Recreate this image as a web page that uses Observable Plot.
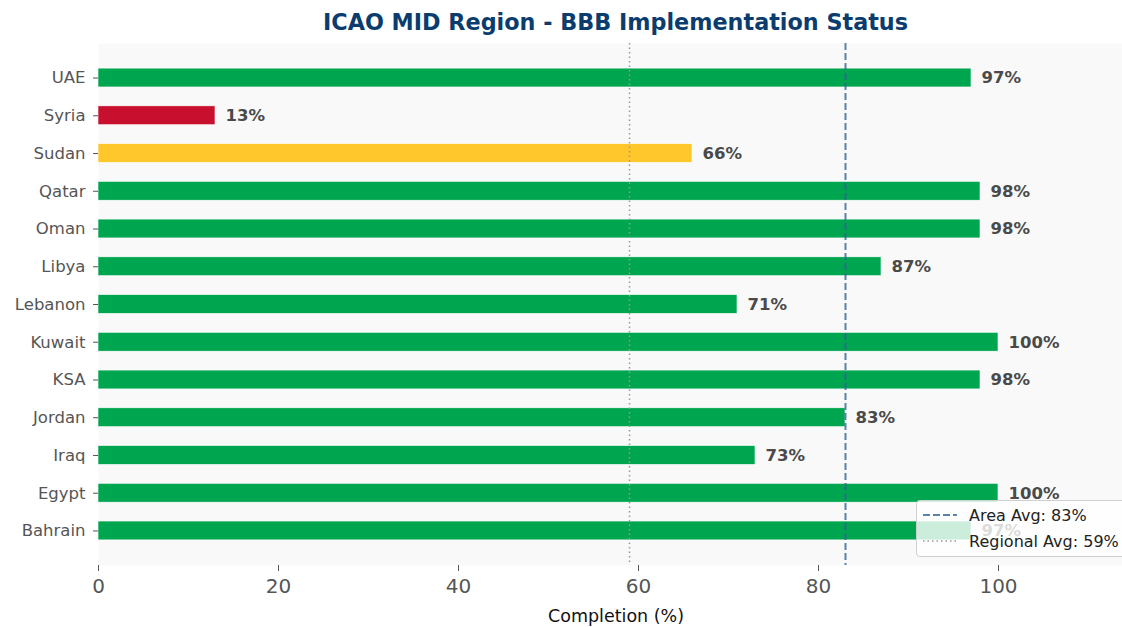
<!DOCTYPE html>
<html>
<head>
<meta charset="utf-8">
<script src="https://cdn.jsdelivr.net/npm/d3@7"></script>
<script src="https://cdn.jsdelivr.net/npm/@observablehq/plot@0.6"></script>
<style>
  html, body { margin: 0; padding: 0; background: #fff; overflow: hidden; width: 1122px; height: 627px; }
  #wrap { position: relative; width: 1133px; font-family: "DejaVu Sans", sans-serif; }
  #title { height: 43px; line-height: 45px; padding-left: 98px; text-align: center; font-weight: bold; font-size: 22.3px; color: #0b3c6e; white-space: nowrap; }
  #legend { position: absolute; left: 916px; top: 500px; width: 210px; height: 57px; box-sizing: border-box;
            background: rgba(255,255,255,0.8); border: 1px solid #d0d0d0; border-radius: 4px; font-size: 16px; color: #222; }
  .row { position: absolute; left: 6px; height: 20px; display: flex; align-items: center; white-space: nowrap; }
  .row svg { margin-right: 12px; }
</style>
</head>
<body>
<div id="wrap">
  <div id="title">ICAO MID Region - BBB Implementation Status</div>
  <div id="chart"></div>
  <div id="legend">
    <div class="row" style="top:4px"><svg width="34" height="6"><line x1="0" y1="3" x2="34" y2="3" stroke="#2f6494" stroke-opacity="0.8" stroke-width="2" stroke-dasharray="7,3"/></svg><span>Area Avg: 83%</span></div>
    <div class="row" style="top:30px"><svg width="34" height="6"><line x1="0" y1="3" x2="34" y2="3" stroke="#999" stroke-width="1.5" stroke-dasharray="1.5,3"/></svg><span>Regional Avg: 59%</span></div>
  </div>
</div>
<script>
const countries = ["UAE", "Syria", "Sudan", "Qatar", "Oman", "Libya", "Lebanon", "Kuwait", "KSA", "Jordan", "Iraq", "Egypt", "Bahrain"];
const completion = [97, 13, 66, 98, 98, 87, 71, 100, 98, 83, 73, 100, 97];
const areaAvg = 83;
const regionalAvg = 59;
const xTicks = [0, 20, 40, 60, 80, 100];

const data = countries.map((c, i) => ({country: c, value: completion[i]}));
const colorOf = v => v >= 70 ? "#00a550" : v >= 50 ? "#ffc72c" : "#c8102e";

const chart = Plot.plot({
  width: 1133,
  height: 584,
  marginTop: 0,
  marginBottom: 62,
  marginLeft: 98,
  marginRight: 0,
  style: {fontFamily: "DejaVu Sans, sans-serif", background: "transparent", overflow: "visible"},
  x: {domain: [0, 115]},
  y: {domain: countries, paddingInner: 0.5, paddingOuter: 0.665, round: false},
  marks: [
    Plot.frame({fill: "#f9f9f9", stroke: null}),
    Plot.barX(data, {x: "value", y: "country", fill: d => colorOf(d.value), stroke: "white", strokeWidth: 0.6}),
    Plot.ruleX([regionalAvg], {stroke: "#999", strokeWidth: 1.5, strokeDasharray: "1.5,3"}),
    Plot.ruleX([areaAvg], {stroke: "#2f6494", strokeOpacity: 0.8, strokeWidth: 2, strokeDasharray: "7,3"}),
    Plot.text(data, {x: "value", y: "country", text: d => d.value + "%", dx: 10, textAnchor: "start",
                     fontWeight: "bold", fontSize: 16.5, fill: "#4a4a4a"}),
    Plot.axisX({ticks: xTicks, tickSize: 6, tickPadding: 7, fontSize: 20, color: "#555", label: null, stroke: "#555"}),
    Plot.axisY({tickSize: 5, tickPadding: 8, fontSize: 16.5, color: "#555", label: null}),
    Plot.text(["Completion (%)"], {frameAnchor: "bottom", dy: 56, fontSize: 17.5, fill: "#111"})
  ]
});
document.getElementById("chart").appendChild(chart);
</script>
</body>
</html>
